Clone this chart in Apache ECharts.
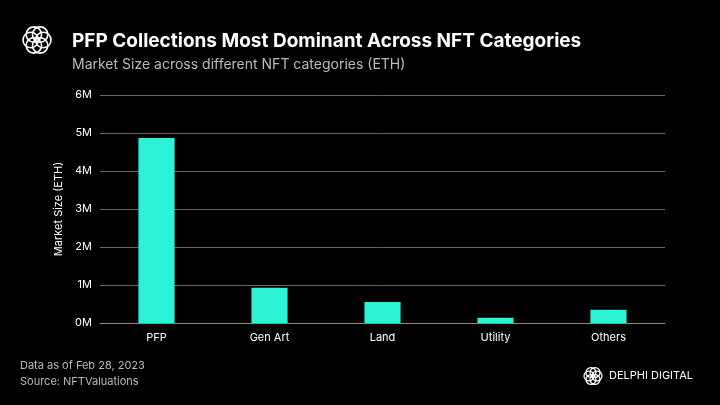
<!DOCTYPE html>
<html><head><meta charset="utf-8">
<script src="https://cdn.jsdelivr.net/npm/echarts@6/dist/echarts.min.js"></script>
<style>html,body{margin:0;background:#000;}#c{width:720px;height:405px;}</style>
</head><body><div id="c"></div>
<script>
const categories = ['PFP','Gen Art','Land','Utility','Others'];
const marketSize = [4.87, 0.93, 0.55, 0.14, 0.35];
const yTicks = ['0M','1M','2M','3M','4M','5M','6M'];

const chart = echarts.init(document.getElementById('c'));
const logo = (cx, cy, r, lw) => {
  const g = [];
  for (let i = 0; i < 6; i++) {
    const a = i * Math.PI / 3;
    g.push({type:'circle', shape:{cx: cx + Math.cos(a)*r*0.45, cy: cy + Math.sin(a)*r*0.45, r: r*0.55},
      style:{fill:'none', stroke:'#fff', lineWidth: lw}});
  }
  return g;
};
chart.setOption({
  backgroundColor: '#000',
  textStyle: {fontFamily: 'Inter, sans-serif'},
  title: [
    {text: 'PFP Collections Most Dominant Across NFT Categories', left: 67, top: 27,
     textStyle: {color: '#fff', fontSize: 19, fontWeight: 'bold', fontFamily: 'Inter'}},
    {text: 'Market Size across different NFT categories (ETH)', left: 67, top: 53,
     textStyle: {color: '#bbb', fontSize: 14, fontWeight: 'normal', fontFamily: 'Inter'}}
  ],
  graphic: [
    ...logo(37, 40, 14, 1.6),
    {type:'text', left: 20, top: 358, style:{text:'Data as of Feb 28, 2023\nSource: NFTValuations', fill:'#bbb', font:'11px Inter', lineHeight: 16}},
    ...logo(593, 376, 9, 1.2),
    {type:'text', left: 609, top: 370, style:{text:'DELPHI DIGITAL', fill:'#fff', font:'11px Inter', letterSpacing: 2}}
  ],
  grid: {left: 100, right: 55, top: 95, bottom: 82},
  xAxis: {type: 'category', data: categories,
    axisLine: {lineStyle: {color: '#888'}}, axisTick: {show: false},
    axisLabel: {color: '#fff', fontSize: 11, margin: 9}},
  yAxis: {type: 'value', min: 0, max: 6, interval: 1, name: 'Market Size (ETH)',
    nameLocation: 'middle', nameGap: 34, nameTextStyle: {color: '#fff', fontSize: 11},
    axisLabel: {color: '#fff', fontSize: 11, formatter: v => yTicks[v]},
    splitLine: {lineStyle: {color: '#666'}}},
  series: [{type: 'bar', data: marketSize, barWidth: '32%', itemStyle: {color: '#2ef2d8'}}]
});
</script></body></html>
